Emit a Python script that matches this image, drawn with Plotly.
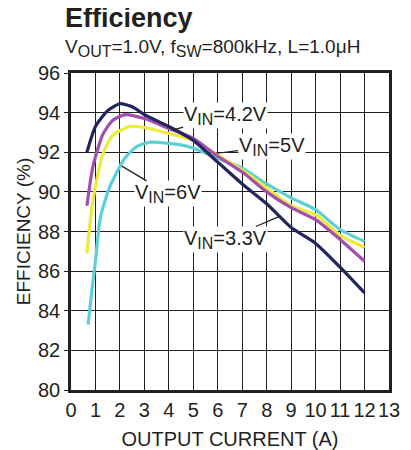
import plotly.graph_objects as go

# Data
x_33 = [0.65, 1.0, 1.5, 2.0, 2.5, 3.0, 4.0, 5.0, 6.0, 7.0, 8.0, 9.0, 10.0, 11.0, 12.0]
y_33 = [92.0, 93.3, 94.1, 94.45, 94.3, 93.9, 93.3, 92.6, 91.5, 90.4, 89.4, 88.2, 87.4, 86.2, 84.9]

x_42 = [0.65, 0.9, 1.3, 1.7, 2.2, 3.0, 4.0, 5.0, 6.0, 7.0, 8.0, 9.0, 10.0, 11.0, 12.0]
y_42 = [89.3, 91.3, 92.9, 93.6, 93.9, 93.7, 93.2, 92.7, 91.8, 91.0, 90.0, 89.2, 88.6, 87.6, 86.5]

x_50 = [0.65, 0.9, 1.3, 1.7, 2.4, 3.0, 4.0, 5.0, 6.0, 7.0, 8.0, 9.0, 10.0, 11.0, 12.0]
y_50 = [86.9, 89.6, 91.9, 92.85, 93.3, 93.25, 92.95, 92.6, 91.85, 91.1, 90.2, 89.3, 88.85, 87.8, 87.2]

x_60 = [0.7, 0.85, 1.0, 1.2, 1.6, 2.2, 2.7, 3.2, 4.0, 4.6, 5.0, 6.0, 7.0, 8.0, 9.0, 10.0, 11.0, 12.0]
y_60 = [83.3, 85.0, 86.5, 88.7, 90.3, 91.7, 92.3, 92.5, 92.45, 92.35, 92.2, 91.7, 91.2, 90.4, 89.7, 89.1, 88.1, 87.5]

x_ticks = list(range(0, 14))
y_ticks = list(range(80, 97, 2))

INK = "#231f20"
FONT = "Liberation Sans, Arial, sans-serif"

def sub(s, size=16):
    return f"<sub><span style='font-size:{size}px'>{s}</span></sub>"

fig = go.Figure()
series = [
    (x_60, y_60, "#5ecfd6", "6V"),
    (x_50, y_50, "#eeea3c", "5V"),
    (x_42, y_42, "#a24fae", "4.2V"),
    (x_33, y_33, "#23255f", "3.3V"),
]
for xs, ys, col, name in series:
    fig.add_trace(go.Scatter(x=xs, y=ys, mode="lines", name=name,
                             line=dict(color=col, width=3.2, shape="spline", smoothing=0.6),
                             showlegend=False, hoverinfo="skip"))

def label(text, tx, ty, px, py):
    fig.add_annotation(x=px, y=py, ax=tx, ay=ty, xref="x", yref="y", axref="x", ayref="y",
                       text=text, showarrow=True, arrowhead=0, arrowwidth=1.2, arrowcolor=INK,
                       bgcolor="white", borderpad=0,
                       font=dict(family=FONT, size=20, color=INK))

label("V" + sub("IN") + "=4.2V", 6.3, 93.85, 4.15, 93.12)
label("V" + sub("IN") + "=5V", 8.2, 92.3, 5.97, 91.95)
label("V" + sub("IN") + "=6V", 3.98, 89.9, 2.08, 91.3)
label("V" + sub("IN") + "=3.3V", 6.3, 87.6, 8.5, 88.75)

fig.add_annotation(xref="paper", yref="paper", x=-0.025, y=1.172, xanchor="left", yanchor="middle",
                   text="<b>Efficiency</b>", showarrow=False,
                   font=dict(family=FONT, size=27, color=INK))
fig.add_annotation(xref="paper", yref="paper", x=-0.025, y=1.08, xanchor="left", yanchor="middle",
                   text="V" + sub("OUT") + "=1.0V, f" + sub("SW") + "=800kHz, L=1.0μH", showarrow=False,
                   font=dict(family=FONT, size=19, color=INK))

# page body has an 8px default margin
fig.update_layout(
    width=403, height=442,
    margin=dict(l=63, r=22, t=65, b=60),
    paper_bgcolor="white", plot_bgcolor="white",
    font=dict(family=FONT, size=20, color=INK),
)
fig.update_xaxes(range=[0, 13], tickvals=x_ticks, ticktext=[str(v) for v in x_ticks],
                 showgrid=True, gridcolor=INK, gridwidth=1.3, zeroline=False,
                 showline=True, linecolor=INK, linewidth=2.5, mirror=True,
                 ticks="", tickfont=dict(size=20), automargin=False,
                 title=dict(text="OUTPUT CURRENT (A)", font=dict(size=20), standoff=17))
fig.update_yaxes(range=[80, 96], tickvals=y_ticks, ticktext=[str(v) for v in y_ticks],
                 showgrid=True, gridcolor=INK, gridwidth=1.3, zeroline=False,
                 showline=True, linecolor=INK, linewidth=2.5, mirror=True,
                 ticks="outside", ticklen=4, tickcolor=INK, tickfont=dict(size=20), automargin=False,
                 title=dict(text="EFFICIENCY (%)", font=dict(size=19), standoff=3))

fig.write_html("out.html")
